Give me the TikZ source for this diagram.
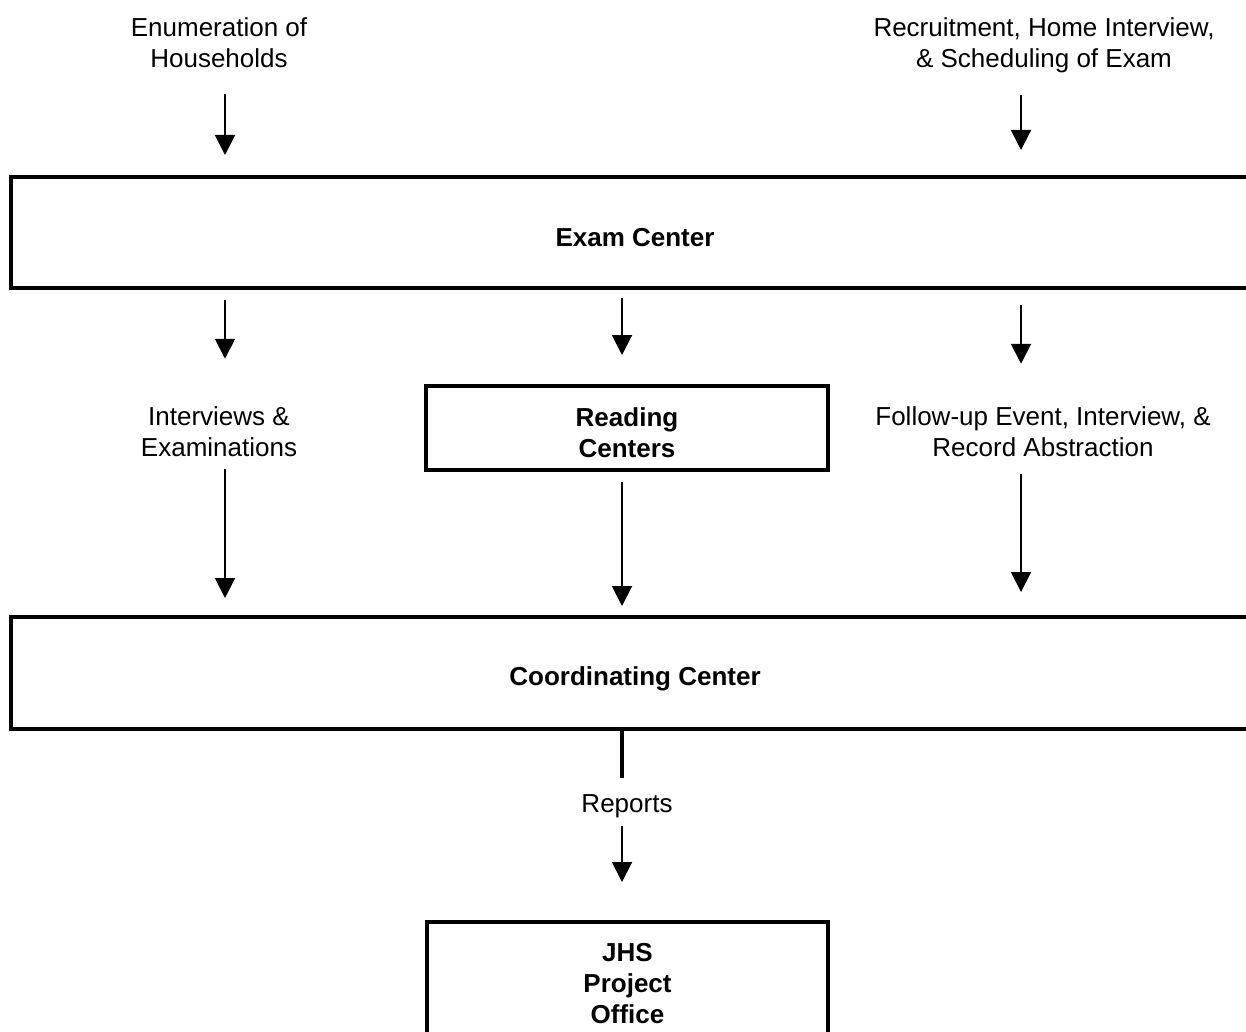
\documentclass[tikz,border=0pt]{standalone}
\usepackage{fontspec}
\setmainfont{Liberation Sans}
\usetikzlibrary{arrows.meta,positioning}
\tikzset{
	box/.style={draw, line width=4pt, inner sep=0pt},
	boxtxt/.style={inner sep=0pt, align=center, font=\fontsize{26}{31}\selectfont\bfseries},
	lbl/.style={inner sep=0pt, align=center, font=\fontsize{26}{31}\selectfont},
	arr/.style={line width=2pt, -{Triangle[width=20pt,length=20pt]}}
}

\begin{document}
\begin{tikzpicture}[x=1pt, y=-1pt]
		%%%%% START %%%%%
		\useasboundingbox (0,0) rectangle (1246,1032);
		\clip (0,0) rectangle (1246,1032);
		
		\coordinate (colL) at (225,0);
		\coordinate (colM) at (622,0);
		\coordinate (colR) at (1021,0);
		
		\node[box, minimum width=1248pt, minimum height=111pt,
			label={[boxtxt, yshift=-5pt]center:Exam Center}] (exam) at (635,232.5) {};
		\node[box, minimum width=402pt, minimum height=84pt,
			label={[boxtxt, yshift=-4.5pt]center:Reading\\Centers}] (reading) at (627,428) {};
		\node[box, minimum width=1248pt, minimum height=112pt,
			label={[boxtxt, yshift=-6pt]center:Coordinating Center}] (coord) at (635,673) {};
		\node[box, minimum width=401pt, minimum height=124pt,
			label={[boxtxt]center:JHS\\Project\\Office}] (jhs) at (627.5,984) {};
		
		\node[lbl] (enum) at (219,43) {Enumeration of\\Households};
		\node[lbl] (recruit) at (1044,45) {Recruitment, Home Interview,\\\& Scheduling of Exam};
		\node[lbl] (interviews) at (219,432) {Interviews \&\\Examinations};
		\node[lbl] (followup) at (1043,432) {Follow-up Event, Interview, \&\\Record Abstraction};
		\node[lbl] (reports) at (627,806) {Reports};
		
		\draw[arr, shorten <=26pt, shorten >=20pt] (enum.south -| colL) -- (exam.north -| colL);
		\draw[arr, shorten <=22pt, shorten >=25pt] (recruit.south -| colR) -- (exam.north -| colR);
		
		\draw[arr, shorten <=10pt, shorten >=48pt] (exam.south -| colL) -- (interviews.north -| colL);
		\draw[arr, shorten <=8pt, shorten >=29pt] (exam.south -| colM) -- (reading.north -| colM);
		\draw[arr, shorten <=15pt, shorten >=43pt] (exam.south -| colR) -- (followup.north -| colR);
		
		\draw[arr, shorten <=12pt, shorten >=17pt] (interviews.south -| colL) -- (coord.north -| colL);
		\draw[arr, shorten <=10pt, shorten >=9pt] (reading.south -| colM) -- (coord.north -| colM);
		\draw[arr, shorten <=17pt, shorten >=23pt] (followup.south -| colR) -- (coord.north -| colR);
		
		\draw[line width=4pt, shorten >=16pt] (coord.south -| colM) -- (reports.north -| colM);
		\draw[arr, shorten <=8pt, shorten >=38pt] (reports.south -| colM) -- (jhs.north -| colM);
		%%%%% END %%%%%
\end{tikzpicture}
\end{document}
